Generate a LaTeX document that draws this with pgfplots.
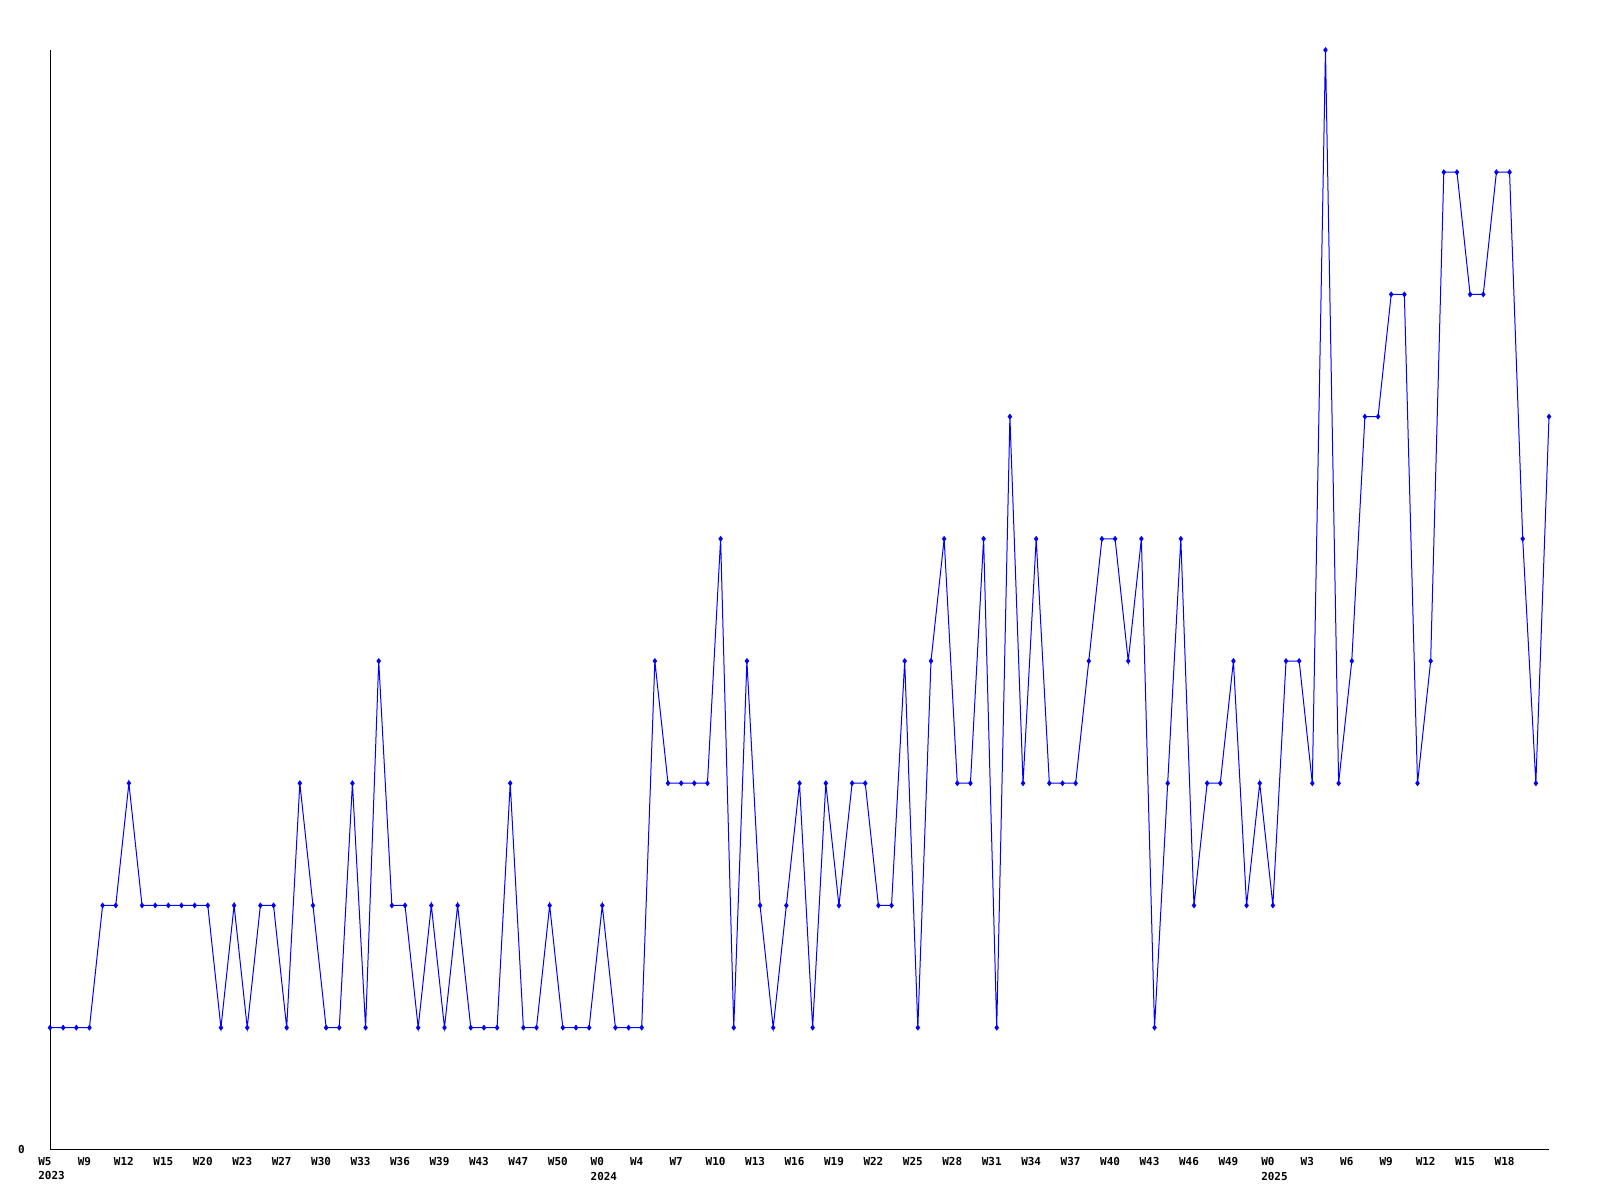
\documentclass[border=0pt]{standalone}
\usepackage{fontspec}
\setmonofont{DejaVu Sans Mono}
\usepackage{pgfplots}
\pgfplotsset{compat=1.18}

\begin{document}
\begin{tikzpicture}
  \begin{axis}[
      name=ax,
      scale only axis,
      width=1499bp,
      height=1100bp,
      xmin=0, xmax=114,
      ymin=0, ymax=9,
      axis x line=bottom,
      axis y line=left,
      axis line style={-, black, line width=1bp},
      clip=false,
      major tick length=0pt,
      ytick={0},
      xtick={0,3,...,111},
      xticklabels={{W5\\\rlap{2023}},W9,W12,W15,W20,W23,W27,W30,W33,W36,W39,W43,W47,W50,
        {W0\\\rlap{2024}},W4,W7,W10,W13,W16,W19,W22,W25,W28,W31,W34,W37,W40,W43,W46,W49,
        {W0\\\rlap{2025}},W3,W6,W9,W12,W15,W18},
      ticklabel style={font=\ttfamily\bfseries\fontsize{11}{15}\selectfont, inner sep=0pt},
      x tick label style={anchor=north, align=left, yshift=-7bp, xshift=-5bp},
      y tick label style={anchor=east, xshift=-25bp},
      /pgf/number format/assume math mode=true,
    ]
    % weekly counts
    \addplot[color=blue, line width=1bp, mark=diamond*, mark size=2.2bp,
             mark options={fill=blue}] table[x=i, y=v] {
      i v
      0 1
      1 1
      2 1
      3 1
      4 2
      5 2
      6 3
      7 2
      8 2
      9 2
      10 2
      11 2
      12 2
      13 1
      14 2
      15 1
      16 2
      17 2
      18 1
      19 3
      20 2
      21 1
      22 1
      23 3
      24 1
      25 4
      26 2
      27 2
      28 1
      29 2
      30 1
      31 2
      32 1
      33 1
      34 1
      35 3
      36 1
      37 1
      38 2
      39 1
      40 1
      41 1
      42 2
      43 1
      44 1
      45 1
      46 4
      47 3
      48 3
      49 3
      50 3
      51 5
      52 1
      53 4
      54 2
      55 1
      56 2
      57 3
      58 1
      59 3
      60 2
      61 3
      62 3
      63 2
      64 2
      65 4
      66 1
      67 4
      68 5
      69 3
      70 3
      71 5
      72 1
      73 6
      74 3
      75 5
      76 3
      77 3
      78 3
      79 4
      80 5
      81 5
      82 4
      83 5
      84 1
      85 3
      86 5
      87 2
      88 3
      89 3
      90 4
      91 2
      92 3
      93 2
      94 4
      95 4
      96 3
      97 9
      98 3
      99 4
      100 6
      101 6
      102 7
      103 7
      104 3
      105 4
      106 8
      107 8
      108 7
      109 7
      110 8
      111 8
      112 5
      113 3
      114 6
    };
  \end{axis}
  \path ([shift={(-50bp,-50bp)}]ax.south west) rectangle ([shift={(51bp,50bp)}]ax.north east);
\end{tikzpicture}
\end{document}
